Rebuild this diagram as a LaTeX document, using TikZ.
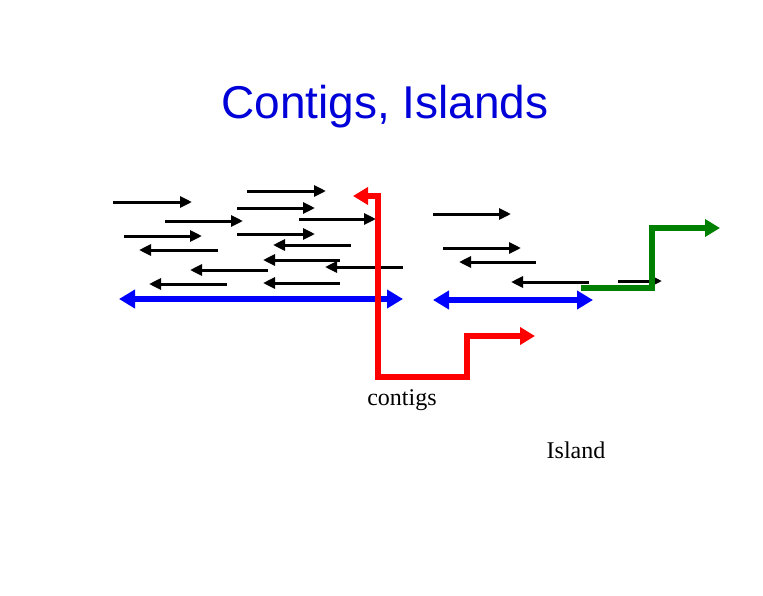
\documentclass[tikz,border=0pt]{standalone}
\usepackage{fontspec}
\setmainfont{Liberation Serif}
\newfontfamily\arial{Liberation Sans}
\usetikzlibrary{arrows.meta}
\tikzset{blk/.style={line width=3pt,-{Triangle[length=12pt,width=11pt]}},
 big/.style={line width=6.5pt,{Triangle[length=16pt,width=18pt]}-{Triangle[length=16pt,width=18pt]}}}
\begin{document}
\begin{tikzpicture}[x=1pt,y=-1pt]
\useasboundingbox (0,0) rectangle (763,595);
\node[font=\arial\fontsize{46}{50}\selectfont,text=blue!85!black] (title) at (385,107) {Contigs, Islands};
\node[font=\fontsize{24}{28}\selectfont] (c) at (402,400) {contigs};
\node[font=\fontsize{24}{28}\selectfont] (i) at (576,450) {Island};
\foreach \a/\b/\y [count=\k] in {113/192/202,247/326/191,237/315/208,165/243/221,299/376/219,124/202/236,237/315/234,
 351/273/245,218/139/250,340/263/260,403/325/267,268/190/270,227/149/284,340/263/283,
 433/511/214,443/521/248,536/459/262,589/511/282,618/662/281}
 {\coordinate (s\k) at (\a,\y); \coordinate (e\k) at (\b,\y); \draw[blk] (s\k) -- (e\k);}
\coordinate (b1) at (119,299); \coordinate (b2) at (403,299);
\coordinate (b3) at (433,300); \coordinate (b4) at (593,300);
\draw[big,blue] (b1) -- (b2);
\draw[big,blue] (b3) -- (b4);
\coordinate (r1) at (353,196); \coordinate (r2) at (535,336);
\draw[red,line width=6.5pt,{Triangle[length=15pt,width=17pt]}-{Triangle[length=15pt,width=17pt]}]
 (r1) -- (378,196) -- (378,377) -- (467,377) -- (467,336) -- (r2);
\coordinate (g1) at (581,288); \coordinate (g2) at (720,228);
\draw[green!50!black,line width=6.5pt,-{Triangle[length=15pt,width=17pt]}]
 (g1) -- (652,288) -- (652,228) -- (g2);
\end{tikzpicture}
\end{document}
